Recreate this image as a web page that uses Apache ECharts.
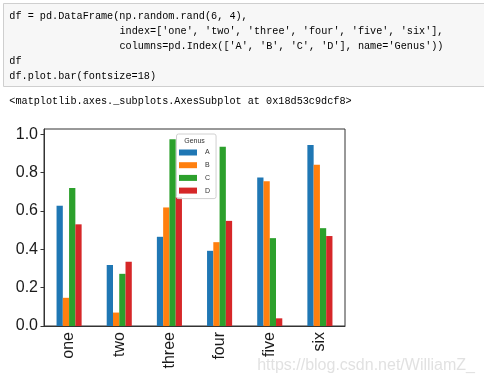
<!DOCTYPE html>
<html>
<head>
<meta charset="utf-8">
<script src="https://cdn.jsdelivr.net/npm/echarts@6/dist/echarts.min.js"></script>
<style>
html,body{margin:0;padding:0;background:#fff;}
#chart{width:484px;height:384px;}
</style>
</head>
<body>
<div id="chart"></div>
<script>
// ---- data ----
var categories = ['one', 'two', 'three', 'four', 'five', 'six'];
var seriesNames = ['A', 'B', 'C', 'D'];
var valuesA = [0.627, 0.318, 0.465, 0.392, 0.774, 0.943];
var valuesB = [0.147, 0.070, 0.618, 0.437, 0.755, 0.840];
var valuesC = [0.720, 0.272, 0.974, 0.934, 0.458, 0.510];
var valuesD = [0.530, 0.335, 0.673, 0.548, 0.040, 0.469];
var yTicks = [0, 0.2, 0.4, 0.6, 0.8, 1.0];
var legendTitle = 'Genus';
var colors = ['#1f77b4', '#ff7f0e', '#2ca02c', '#d62728'];

var chart = echarts.init(document.getElementById('chart'), null, {renderer: 'canvas'});

var MONO = '"Liberation Mono", "DejaVu Sans Mono", monospace';
var codeFont = 10.2;
var cw = codeFont * 0.6;
var rich = {
  k: {fontFamily: MONO, fontSize: codeFont, fill: '#000', color: '#000'},
  p: {fontFamily: MONO, fontSize: codeFont, color: '#aa22ff'},
  s: {fontFamily: MONO, fontSize: codeFont, color: '#ba2121'},
  n: {fontFamily: MONO, fontSize: codeFont, color: '#008000'},
  g: {fontFamily: MONO, fontSize: codeFont, color: '#2ca02c'}
};
var codeLines = [
  {indent: 0, y: 16, text: '{k|df }{p|=}{k| pd.DataFrame(np.random.rand(}{n|6}{k|, }{n|4}{k|),}'},
  {indent: 18, y: 31.5, text: "{k|index}{p|=}{k|[}{s|'one'}{k|, }{s|'two'}{k|, }{s|'three'}{k|, }{s|'four'}{k|, }{s|'five'}{k|, }{s|'six'}{k|],}"},
  {indent: 18, y: 46, text: "{k|columns}{p|=}{k|pd.Index([}{s|'A'}{k|, }{s|'B'}{k|, }{s|'C'}{k|, }{s|'D'}{k|], name}{p|=}{s|'Genus'}{k|))}"},
  {indent: 0, y: 61, text: '{k|df}'},
  {indent: 0, y: 76, text: '{k|df.plot.bar}{g|(}{k|fontsize}{p|=}{n|18}{g|)}'}
];
var graphics = [
  {type: 'rect', shape: {x: 3.5, y: 3.5, width: 490, height: 83}, style: {fill: '#f7f7f7', stroke: '#cfcfcf', lineWidth: 1}, z: -1}
];
codeLines.forEach(function (l) {
  graphics.push({type: 'text', x: 9.3 + l.indent * cw, y: l.y,
    style: {text: l.text, rich: rich, verticalAlign: 'middle', align: 'left'}});
});
graphics.push({type: 'text', x: 9.3, y: 101.5,
  style: {text: '<matplotlib.axes._subplots.AxesSubplot at 0x18d53c9dcf8>', fontFamily: MONO, fontSize: codeFont, fill: '#000', verticalAlign: 'middle'}});
graphics.push({type: 'text', x: 194.5, y: 141.5, z: 20,
  style: {text: legendTitle, fontFamily: '"Liberation Sans", Arial, sans-serif', fontSize: 7, fill: '#333', align: 'center', verticalAlign: 'middle'}});
graphics.push({type: 'text', x: 475, y: 366,
  style: {text: 'https://blog.csdn.net/WilliamZ_', fontFamily: '"Liberation Sans", Arial, sans-serif', fontSize: 16, fill: 'rgba(200,200,200,0.55)', align: 'right', verticalAlign: 'middle'}, z: 30});

var seriesValues = [valuesA, valuesB, valuesC, valuesD];
var series = seriesNames.map(function (name, i) {
  return {
    name: name, type: 'bar', data: seriesValues[i],
    barGap: '0%', barCategoryGap: '50%',
    itemStyle: {color: colors[i]},
    emphasis: {disabled: true}
  };
});

var LABELFONT = '"Liberation Sans", Arial, sans-serif';
chart.setOption({
  animation: false,
  color: colors,
  grid: {left: 44, right: 139, top: 129, bottom: 58, show: true, borderColor: '#333', borderWidth: 1, backgroundColor: 'transparent'},
  graphic: graphics,
  legend: {
    orient: 'vertical', left: 176.5, top: 134,
    data: seriesNames,
    icon: 'rect', itemWidth: 18, itemHeight: 6, itemGap: 5.7,
    padding: [15, 6, 4.5, 2.5],
    backgroundColor: 'rgba(255,255,255,0.85)', borderColor: '#d0d0d0', borderWidth: 1, borderRadius: 2,
    textStyle: {fontSize: 7, fontFamily: LABELFONT, color: '#333', lineHeight: 6, padding: [0, 0, 0, 3]},
    z: 10
  },
  xAxis: {
    type: 'category', data: categories,
    axisLine: {lineStyle: {color: '#333', width: 1}},
    axisTick: {alignWithLabel: true, length: 3.5, lineStyle: {color: '#333'}},
    axisLabel: {rotate: 90, fontSize: 16, fontFamily: LABELFONT, color: '#1a1a1a', margin: 6}
  },
  yAxis: {
    type: 'value', min: 0, max: 1.027, interval: 0.2,
    axisLine: {show: true, lineStyle: {color: '#333', width: 1}},
    axisTick: {show: true, length: 3.5, lineStyle: {color: '#333'}, customValues: yTicks},
    splitLine: {show: false},
    axisLabel: {fontSize: 16, fontFamily: LABELFONT, color: '#1a1a1a', margin: 6, customValues: yTicks,
      formatter: function (v) { return v.toFixed(1); }}
  },
  series: series
});
</script>
</body>
</html>
